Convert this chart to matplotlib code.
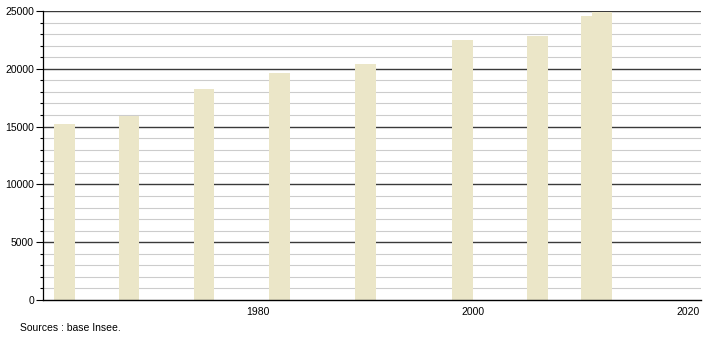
import numpy as np
import matplotlib.pyplot as plt

plt.rcParams['font.family'] = ['Liberation Sans', 'DejaVu Sans']

annees = [1962, 1968, 1975, 1982, 1990, 1999, 2006, 2011, 2012]
population = [15200, 15900, 18250, 19640, 20400, 22480, 22850, 24600, 24950]
xticks = [1980, 2000, 2020]

fig = plt.figure(figsize=(7.1, 3.4), dpi=100)
ax = fig.add_axes([43/710, 40/340, 658/710, 289/340])

# grille : fines tous les 1000, foncées tous les 5000
for v in range(1000, 25001, 1000):
    if v % 5000 == 0:
        ax.axhline(v, color='#3a3a3a', lw=1.0, zorder=1)
    else:
        ax.axhline(v, color='#cccccc', lw=0.8, zorder=1)

ax.bar(annees, population, width=1.9, color='#ebe6c8', zorder=2)

ax.set_xlim(1960, 2021.2)
ax.set_ylim(0, 25000)
ax.set_xticks(xticks)
ax.set_xticklabels([str(t) for t in xticks], fontsize=7.5)
ax.tick_params(axis='x', length=0, pad=5)
ax.set_yticks(np.arange(0, 25001, 5000))
ax.set_yticklabels([str(v) for v in range(0, 25001, 5000)], fontsize=7.5)
ax.set_yticks(np.arange(0, 25001, 1000), minor=True)
ax.tick_params(axis='y', which='major', length=5, width=0.8, pad=1.5)
ax.tick_params(axis='y', which='minor', length=2, width=0.8)

for s in ['top', 'right']:
    ax.spines[s].set_visible(False)
ax.spines['left'].set_linewidth(0.9)
ax.spines['bottom'].set_linewidth(1.0)

fig.text(20/710, 1 - 328/340, "Sources : base Insee.", fontsize=7.5, va='center')

fig.savefig('out.png', dpi=100)
